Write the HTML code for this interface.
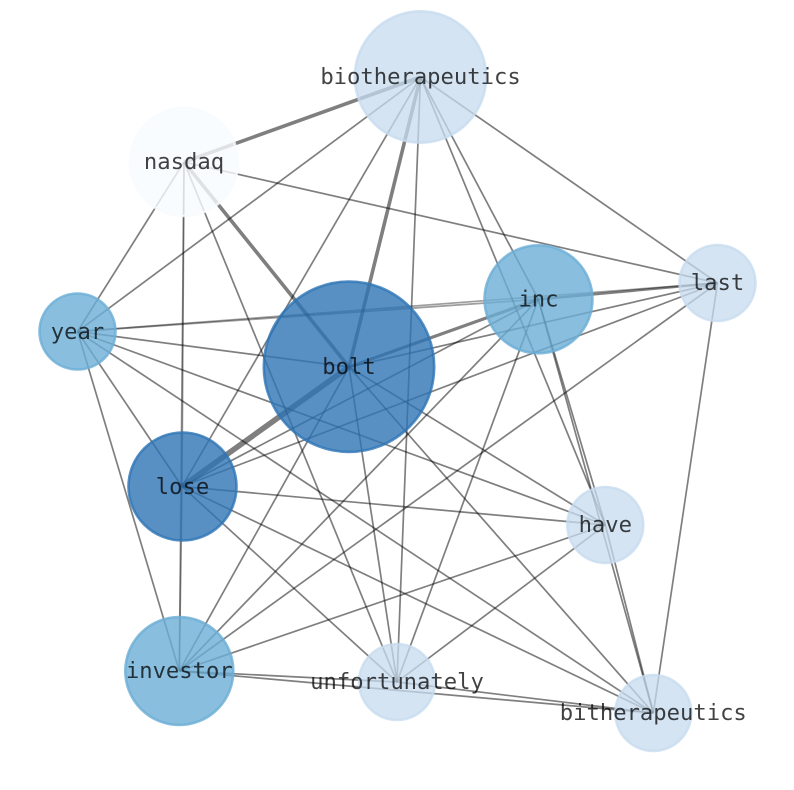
<!DOCTYPE html>
<html>
<head>
<meta charset="utf-8">
<style>
html,body{margin:0;padding:0;background:#fff;width:794px;height:790px;overflow:hidden}
svg{display:block}
text{font-family:"DejaVu Sans Mono","Liberation Mono",monospace;font-size:22.2px;text-anchor:middle;fill:#000;fill-opacity:.74}
</style>
</head>
<body>
<svg width="794" height="790" viewBox="0 0 794 790" xmlns="http://www.w3.org/2000/svg">
<rect width="794" height="790" fill="#fff"/>
<g stroke="#000" stroke-opacity=".5" stroke-width="1.7" fill="none">
<!-- biotherapeutics -->
<line x1="420.5" y1="77" x2="184" y2="162" stroke-width="3.6"/>
<line x1="420.5" y1="77" x2="349" y2="367" stroke-width="3.6"/>
<line x1="420.5" y1="77" x2="77.5" y2="331.5"/>
<line x1="420.5" y1="77" x2="182" y2="486.5"/>
<line x1="420.5" y1="77" x2="397" y2="682"/>
<line x1="420.5" y1="77" x2="605.3" y2="525"/>
<line x1="420.5" y1="77" x2="538.3" y2="299.3"/>
<line x1="420.5" y1="77" x2="717.5" y2="283"/>
<!-- nasdaq -->
<line x1="184" y1="162" x2="77.5" y2="331.5"/>
<line x1="184" y1="162" x2="717.5" y2="283"/>
<line x1="184" y1="162" x2="182" y2="486.5" stroke-opacity=".38"/>
<line x1="184" y1="162" x2="179.3" y2="671" stroke-opacity=".38"/>
<line x1="184" y1="162" x2="349" y2="367" stroke-width="3.6"/>
<line x1="184" y1="162" x2="397" y2="682"/>
<!-- year -->
<line x1="77.5" y1="331.5" x2="538.3" y2="299.3" stroke-width="1.8" stroke-opacity=".38"/>
<line x1="77.5" y1="331.5" x2="717.5" y2="283" stroke-opacity=".38"/>
<line x1="77.5" y1="331.5" x2="349" y2="367"/>
<line x1="77.5" y1="331.5" x2="605.3" y2="525"/>
<line x1="77.5" y1="331.5" x2="653.3" y2="713"/>
<line x1="77.5" y1="331.5" x2="182" y2="486.5"/>
<line x1="77.5" y1="331.5" x2="179.3" y2="671"/>
<!-- inc -->
<line x1="538.3" y1="299.3" x2="717.5" y2="283" stroke-width="2.6"/>
<line x1="538.3" y1="299.3" x2="349" y2="367" stroke-width="3.2"/>
<line x1="538.3" y1="299.3" x2="182" y2="486.5"/>
<line x1="538.3" y1="299.3" x2="179.3" y2="671"/>
<line x1="538.3" y1="299.3" x2="397" y2="682"/>
<line x1="538.3" y1="299.3" x2="605.3" y2="525"/>
<line x1="538.3" y1="299.3" x2="653.3" y2="713"/>
<!-- last -->
<line x1="717.5" y1="283" x2="349" y2="367"/>
<line x1="717.5" y1="283" x2="182" y2="486.5"/>
<line x1="717.5" y1="283" x2="179.3" y2="671"/>
<line x1="717.5" y1="283" x2="653.3" y2="713"/>
<!-- bolt -->
<line x1="349" y1="367" x2="182" y2="486.5" stroke-width="5.6"/>
<line x1="349" y1="367" x2="179.3" y2="671"/>
<line x1="349" y1="367" x2="397" y2="682"/>
<line x1="349" y1="367" x2="605.3" y2="525"/>
<line x1="349" y1="367" x2="653.3" y2="713"/>
<!-- lose -->
<line x1="182" y1="486.5" x2="179.3" y2="671" stroke-opacity=".38"/>
<line x1="182" y1="486.5" x2="605.3" y2="525"/>
<line x1="182" y1="486.5" x2="397" y2="682"/>
<line x1="182" y1="486.5" x2="653.3" y2="713"/>
<!-- have -->
<line x1="605.3" y1="525" x2="179.3" y2="671"/>
<line x1="605.3" y1="525" x2="397" y2="682"/>
<line x1="605.3" y1="525" x2="653.3" y2="713"/>
<!-- investor / unfortunately -->
<line x1="179.3" y1="671" x2="397" y2="682"/>
<line x1="179.3" y1="671" x2="653.3" y2="713"/>
<line x1="397" y1="682" x2="653.3" y2="713"/>
</g>
<g stroke-width="2.6" fill-opacity=".8" stroke-opacity=".8">
<g fill-opacity=".75" stroke-opacity=".75">
<circle cx="420.5" cy="77" r="65.7" fill="#c6dbef" stroke="#c6dbef"/>
<circle cx="717.5" cy="283" r="38" fill="#c6dbef" stroke="#c6dbef"/>
<circle cx="605.3" cy="525" r="38" fill="#c6dbef" stroke="#c6dbef"/>
<circle cx="397" cy="682" r="38" fill="#c6dbef" stroke="#c6dbef"/>
<circle cx="653.3" cy="713" r="38" fill="#c6dbef" stroke="#c6dbef"/>
</g>
<circle cx="184" cy="162" r="54" fill="#f7fbff" stroke="#f7fbff"/>
<circle cx="538.5" cy="299.3" r="54" fill="#6baed6" stroke="#6baed6"/>
<circle cx="77.5" cy="331.5" r="38" fill="#6baed6" stroke="#6baed6"/>
<circle cx="349" cy="366.7" r="85.2" fill="#2e74b5" stroke="#2e74b5"/>
<circle cx="182.5" cy="486.5" r="54" fill="#2e74b5" stroke="#2e74b5"/>
<circle cx="179.3" cy="671" r="54" fill="#6baed6" stroke="#6baed6"/>
</g>
<text x="420.5" y="84">biotherapeutics</text>
<text x="184" y="169">nasdaq</text>
<text x="717.5" y="290">last</text>
<text x="538.5" y="306.3">inc</text>
<text x="77.5" y="339">year</text>
<text x="349" y="374">bolt</text>
<text x="182.5" y="494">lose</text>
<text x="605.3" y="532">have</text>
<text x="179.3" y="678">investor</text>
<text x="397" y="689">unfortunately</text>
<text x="653.3" y="720">bitherapeutics</text>
</svg>
</body>
</html>
